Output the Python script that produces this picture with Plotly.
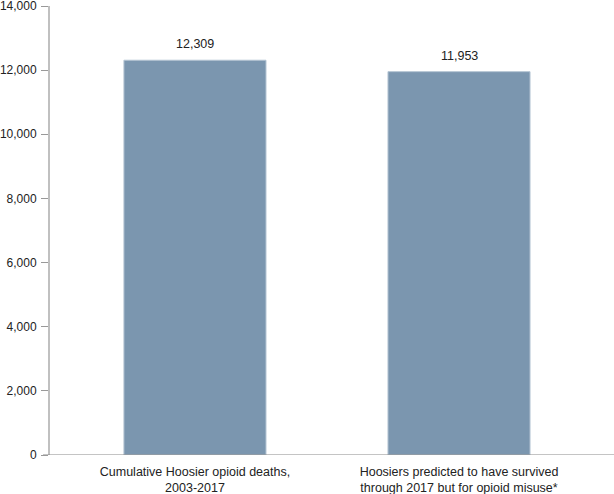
import plotly.graph_objects as go

categories = ["Cumulative Hoosier opioid deaths,<br>2003-2017",
              "Hoosiers predicted to have survived<br>through 2017 but for opioid misuse*"]
values = [12309, 11953]
value_labels = ["12,309", "11,953"]
y_ticks = [0, 2000, 4000, 6000, 8000, 10000, 12000, 14000]
y_tick_labels = ["0", "2,000", "4,000", "6,000", "8,000", "10,000", "12,000", "14,000"]

FONT = "Liberation Sans, Arial, sans-serif"

fig = go.Figure()
fig.add_trace(go.Bar(
    x=[0, 1], y=values, width=0.538,
    marker=dict(color="#7b96af", line=dict(color="#b4c4d3", width=1)),
    hoverinfo="skip",
))
for i, (v, t) in enumerate(zip(values, value_labels)):
    fig.add_annotation(x=i, y=v, text=t, showarrow=False, yshift=16,
                       font=dict(family=FONT, size=12.5, color="#222"))

fig.update_layout(
    width=614, height=494,
    margin=dict(l=50, r=0, t=6, b=39, pad=0),
    plot_bgcolor="white", paper_bgcolor="white",
    showlegend=False,
    font=dict(family=FONT, size=12, color="#222"),
    xaxis=dict(range=[-0.549, 1.587], tickmode="array", tickvals=[0, 1],
               ticktext=categories, showgrid=False, zeroline=False,
               showline=False, ticks="", ticklabelstandoff=7, automargin=False,
               tickfont=dict(size=12.5, color="#222")),
    yaxis=dict(range=[0, 14000], tickmode="array", tickvals=y_ticks,
               ticktext=y_tick_labels, showgrid=False, zeroline=False,
               showline=True, linecolor="#c0c0c0", linewidth=2,
               ticks="outside", ticklen=7, tickcolor="#999", tickwidth=1,
               ticklabelstandoff=2, ticklabeloverflow="allow", automargin=False,
               tickfont=dict(size=12, color="#222")),
)
# baseline
fig.add_shape(type="line", xref="paper", yref="y", x0=-7/564, x1=1, y0=0, y1=0,
              line=dict(color="#888888", width=1))

fig.write_html("out.html")
